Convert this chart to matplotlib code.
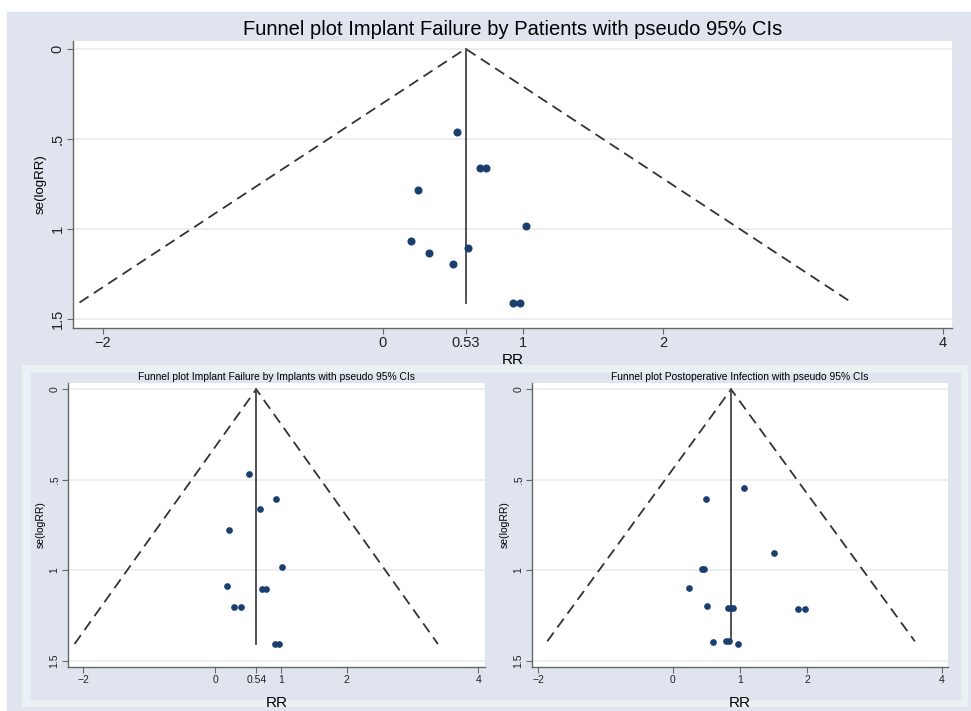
import numpy as np
import matplotlib.pyplot as plt
from matplotlib.patches import Rectangle

# panel 1: implant failure by patients
top_rr = [0.53, 0.69, 0.735, 0.25, 1.02, 0.20, 0.61, 0.33, 0.50, 0.925, 0.98]
top_se = [0.464, 0.66, 0.66, 0.784, 0.983, 1.063, 1.103, 1.135, 1.192, 1.407, 1.407]
top_center, top_center_lbl, top_smax = 0.59, "0.53", 1.407

# panel 2: implant failure by implants
bl_rr = [0.52, 0.93, 0.68, 0.218, 1.013, 0.182, 0.709, 0.775, 0.294, 0.40, 0.916, 0.977]
bl_se = [0.466, 0.604, 0.663, 0.779, 0.982, 1.089, 1.106, 1.106, 1.201, 1.201, 1.408, 1.408]
bl_center, bl_center_lbl, bl_smax = 0.625, "0.54", 1.408

# panel 3: postoperative infection
br_rr = [1.052, 0.496, 1.499, 0.432, 0.471, 0.243, 0.511, 0.824, 0.864, 0.903,
         1.856, 1.97, 0.60, 0.789, 0.834, 0.973]
br_se = [0.544, 0.606, 0.907, 0.993, 0.993, 1.096, 1.196, 1.211, 1.211, 1.211,
         1.214, 1.214, 1.395, 1.393, 1.393, 1.406]
br_center, br_smax = 0.867, 1.393

y_ticks = [0, 0.5, 1, 1.5]
y_labels = ["0", ".5", "1", "1.5"]

W, H = 971, 711
BG = "#dfe4ee"
FRAME = "#eaf1f4"
NAVY = "#1a3f6f"
FAM = ['Liberation Sans', 'DejaVu Sans']


def rect(x0, y0, x1, y1):
    return [x0 / W, 1 - y1 / H, (x1 - x0) / W, (y1 - y0) / H]


def funnel(ax, rr, se, center, smax, xticks, xlabels, title, big):
    fs_tick = 10.5 if big else 7.5
    for y in y_ticks:
        ax.axhline(y, color="#e8ecf2", lw=1.2, zorder=0)
    half = 1.96 * smax
    dash = (6, 3.5) if big else (6, 3.5)
    ax.plot([center - half, center, center + half], [smax, 0, smax],
            color="#333333", lw=1.3, dashes=dash)
    ax.plot([center, center], [0, smax], color="#444444", lw=1.3)
    ax.plot(rr, se, "o", color=NAVY, ms=4.8 if big else 3.8, mec=NAVY, zorder=3)
    ax.set_xticks(xticks)
    ax.set_xticklabels(xlabels, family=FAM)
    ax.set_yticks(y_ticks)
    ax.set_yticklabels(y_labels, rotation=90, va="center", family=FAM)
    ax.tick_params(labelsize=fs_tick, colors="#222222", length=4, width=0.8,
                   pad=2)
    ax.tick_params(axis="both", color="#666666")
    for s in ("top", "right"):
        ax.spines[s].set_visible(False)
    for s in ("left", "bottom"):
        ax.spines[s].set_color("#666666")
        ax.spines[s].set_linewidth(1.0)
    ax.set_ylabel("se(logRR)", fontsize=9.5 if big else 7.5, family=FAM,
                  labelpad=3)
    ax.set_xlabel("RR", fontsize=11 if big else 11, family=FAM,
                  labelpad=2 if big else 8)
    ax.set_title(title, fontsize=14.5 if big else 7.4, family=FAM,
                 pad=4 if big else 2)


fig = plt.figure(figsize=(W / 100, H / 100), dpi=100)
fig.patches.append(Rectangle((7 / W, 0), 1, 1 - 12 / H, transform=fig.transFigure,
                             color=BG, zorder=-3))
r = rect(22, 365, 967, 706)
fig.patches.append(Rectangle((r[0], r[1]), r[2], r[3], transform=fig.transFigure,
                             color=FRAME, zorder=-2))
r = rect(31, 373, 960, 699)
fig.patches.append(Rectangle((r[0], r[1]), r[2], r[3], transform=fig.transFigure,
                             color=BG, zorder=-1))

ax1 = fig.add_axes(rect(73, 41, 952, 328))
funnel(ax1, top_rr, top_se, top_center, top_smax,
       [-2, 0, top_center, 1, 2, 4], ["\u22122", "0", top_center_lbl, "1", "2", "4"],
       "Funnel plot Implant Failure by Patients with pseudo 95% CIs", True)
ax1.set_xlim(-2.214, 4.064)
ax1.set_ylim(1.548, -0.043)

ax2 = fig.add_axes(rect(68, 383, 485, 667))
funnel(ax2, bl_rr, bl_se, bl_center, bl_smax,
       [-2, 0, bl_center, 1, 2, 4], ["\u22122", "0", bl_center_lbl, "1", "2", "4"],
       "Funnel plot Implant Failure by Implants with pseudo 95% CIs", False)
ax2.set_xlim(-2.234, 4.10)
ax2.set_ylim(1.535, -0.035)

ax3 = fig.add_axes(rect(532, 383, 948, 667))
funnel(ax3, br_rr, br_se, br_center, br_smax,
       [-2, 0, 1, 2, 4], ["\u22122", "0", "1", "2", "4"],
       "Funnel plot Postoperative Infection with pseudo 95% CIs", False)
ax3.set_xlim(-2.09, 4.09)
ax3.set_ylim(1.535, -0.035)

fig.savefig("out.png", dpi=100, facecolor="white")
